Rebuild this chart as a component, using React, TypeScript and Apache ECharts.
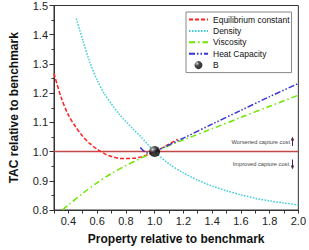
import React, { useEffect, useRef } from "react";
import * as echarts from "echarts";

const xEq = [0.3, 0.35, 0.4, 0.45, 0.5, 0.55, 0.6, 0.65, 0.7, 0.75, 0.8, 0.85, 0.9, 0.95, 1.0, 1.05, 1.1, 1.16];
const yEq = [1.267, 1.185, 1.125, 1.085, 1.052, 1.027, 1.008, 0.993, 0.983, 0.977, 0.976, 0.977, 0.981, 0.989, 1.0, 1.012, 1.025, 1.042];

const xDen = [0.455, 0.5, 0.55, 0.6, 0.65, 0.7, 0.75, 0.8, 0.85, 0.9, 0.95, 1.0, 1.1, 1.2, 1.3, 1.4, 1.5, 1.6, 1.7, 1.8, 1.9, 2.0];
const yDen = [1.455, 1.382, 1.305, 1.245, 1.198, 1.163, 1.13, 1.103, 1.077, 1.053, 1.026, 1.0, 0.958, 0.927, 0.902, 0.882, 0.866, 0.852, 0.84, 0.831, 0.824, 0.817];

const xVis = [0.36, 0.4, 0.5, 0.6, 0.7, 0.8, 0.9, 1.0, 1.2, 1.4, 1.6, 1.8, 2.0];
const yVis = [0.8, 0.817, 0.857, 0.893, 0.925, 0.952, 0.976, 1.0, 1.04, 1.078, 1.117, 1.155, 1.193];

const xHeat = [0.9, 0.93, 0.96, 1.0, 1.2, 1.4, 1.6, 1.8, 2.0];
const yHeat = [1.014, 1.0, 0.994, 1.0, 1.046, 1.094, 1.141, 1.188, 1.233];

const benchmark: [number, number][] = [[1.0, 1.0]];
const refLine: [number, number][] = [[0.3, 1.0], [2.0, 1.0]];

const names = ["Equilibrium constant", "Density", "Viscosity", "Heat Capacity", "B"];
const FONT = "Liberation Sans, Arial, sans-serif";

const pairs = (xs: number[], ys: number[]) => xs.map((x, i) => [x, ys[i]]);

export default function App() {
  const ref = useRef<HTMLDivElement>(null);
  useEffect(() => {
    const chart = echarts.init(ref.current!, null, { renderer: "svg" });
    const lineSeries = (name: string, xs: number[], ys: number[], color: string, type: any, width = 1.5) => ({
      name,
      type: "line",
      data: pairs(xs, ys),
      showSymbol: false,
      symbol: "none",
      smooth: 0.3,
      lineStyle: { color, width, type },
      itemStyle: { color, opacity: 0 },
      z: 3,
    });
    chart.setOption({
      animation: false,
      backgroundColor: "#fff",
      grid: { left: 43, right: 8.5, top: 5, bottom: 38, show: true, borderColor: "#333", borderWidth: 1, backgroundColor: "transparent" },
      legend: {
        data: names,
        orient: "vertical",
        left: 186,
        top: 12,
        itemWidth: 19,
        itemHeight: 8,
        itemGap: 2.4,
        padding: [3, 2, 3, 2],
        backgroundColor: "#fff",
        borderColor: "#888",
        borderWidth: 1,
        borderRadius: 0,
        textStyle: { fontSize: 8.5, fontFamily: FONT, color: "#111" },
      },
      xAxis: {
        type: "value",
        min: 0.3,
        max: 2.0,
        interval: 0.1,
        name: "Property relative to benchmark",
        nameLocation: "middle",
        nameGap: 23,
        nameTextStyle: { fontSize: 12, fontWeight: "bold", fontFamily: FONT, color: "#111" },
        axisLine: { lineStyle: { color: "#333", width: 1 } },
        axisTick: { show: true, inside: false, length: 3.5, lineStyle: { color: "#333" } },
        axisLabel: {
          fontSize: 11,
          fontFamily: FONT,
          color: "#222",
          margin: 5,
          formatter: (v: number) => {
            const t = Math.round(v * 10);
            return t % 2 === 0 ? (t / 10).toFixed(1) : "";
          },
        },
        splitLine: { show: false },
      },
      yAxis: {
        type: "value",
        min: 0.8,
        max: 1.5,
        interval: 0.1,
        name: "TAC relative to benchmark",
        nameLocation: "middle",
        nameGap: 34,
        nameTextStyle: { fontSize: 12, fontWeight: "bold", fontFamily: FONT, color: "#111" },
        axisLine: { show: true, lineStyle: { color: "#333", width: 1 } },
        axisTick: { show: true, inside: false, length: 4.5, lineStyle: { color: "#333" } },
        minorTick: { show: true, splitNumber: 2, length: 2.5, lineStyle: { color: "#333" } },
        axisLabel: {
          fontSize: 11,
          fontFamily: FONT,
          color: "#222",
          margin: 6,
          formatter: (v: number) => v.toFixed(1),
        },
        splitLine: { show: false },
      },
      series: [
        {
          name: "ref",
          type: "line",
          data: refLine,
          showSymbol: false,
          symbol: "none",
          lineStyle: { color: "#c44848", width: 1.6 },
          z: 2,
          silent: true,
        },
        lineSeries(names[0], xEq, yEq, "#ff2020", [4, 2]),
        lineSeries(names[1], xDen, yDen, "#38cdd6", [1.5, 1.5]),
        lineSeries(names[2], xVis, yVis, "#6ee600", [6, 3, 1.5, 3]),
        lineSeries(names[3], xHeat, yHeat, "#3333d6", [6, 2, 1.5, 2, 1.5, 2]),
        {
          name: names[4],
          type: "scatter",
          data: benchmark,
          symbol: "circle",
          symbolSize: 11,
          z: 5,
          itemStyle: {
            color: new echarts.graphic.RadialGradient(0.32, 0.3, 0.75, [
              { offset: 0, color: "#ffffff" },
              { offset: 0.12, color: "#888888" },
              { offset: 0.45, color: "#111111" },
              { offset: 1, color: "#000000" },
            ]),
          },
        },
      ],
      graphic: [
        { type: "text", x: 290, y: 141.5, style: { text: "Worsened capture cost", fontSize: 5.7, fontFamily: FONT, fill: "#444", align: "right", verticalAlign: "middle" } },
        { type: "text", x: 289, y: 164, style: { text: "Improved capture cost", fontSize: 5.7, fontFamily: FONT, fill: "#444", align: "right", verticalAlign: "middle" } },
        { type: "line", shape: { x1: 292.5, y1: 140, x2: 292.5, y2: 146 }, style: { stroke: "#4a1f4a", lineWidth: 1 } },
        { type: "polygon", shape: { points: [[290.8, 140.5], [294.2, 140.5], [292.5, 136.5]] }, style: { fill: "#4a1f4a" } },
        { type: "line", shape: { x1: 292.5, y1: 159.5, x2: 292.5, y2: 166 }, style: { stroke: "#4a1f4a", lineWidth: 1 } },
        { type: "polygon", shape: { points: [[290.8, 165.5], [294.2, 165.5], [292.5, 169.5]] }, style: { fill: "#4a1f4a" } },
      ],
    });
    return () => chart.dispose();
  }, []);
  return <div ref={ref} style={{ position: "fixed", left: 0, top: 0, width: 309, height: 250 }} />;
}
